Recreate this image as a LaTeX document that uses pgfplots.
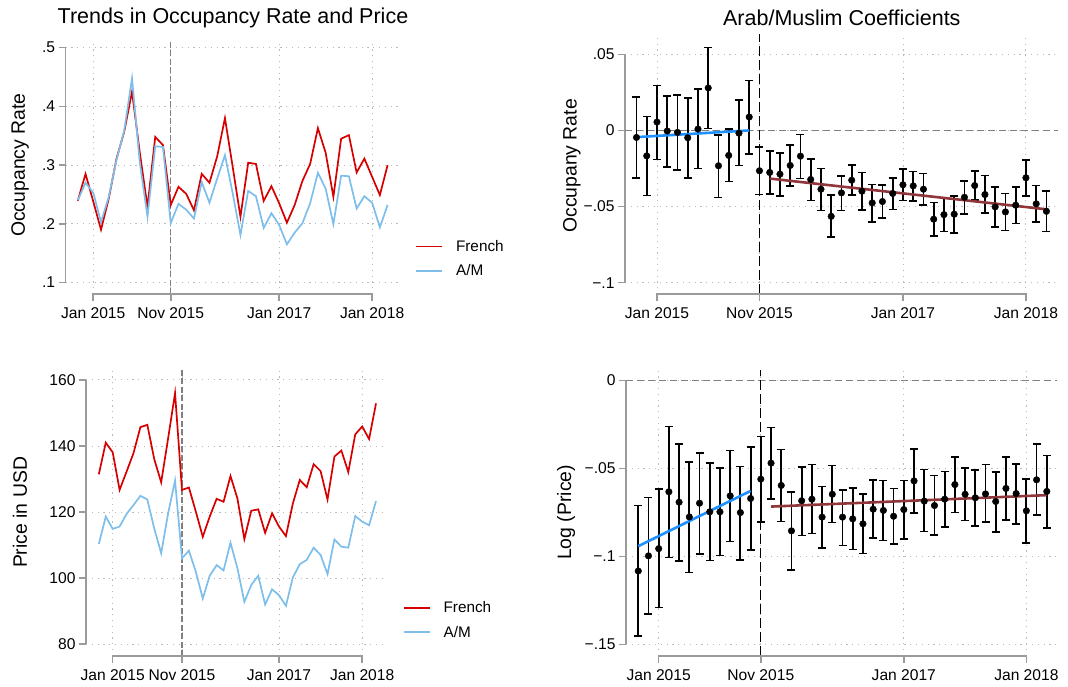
\documentclass[border=0pt]{standalone}
\usepackage{fontspec}
\setmainfont{Liberation Sans}
\usepackage{pgfplots}
\usepackage{pgfplotstable}
\pgfplotsset{compat=1.18}

\definecolor{frred}{RGB}{214,0,0}
\definecolor{amblue}{RGB}{125,190,235}
\definecolor{fitblue}{RGB}{30,144,255}
\definecolor{fitred}{RGB}{144,53,58}
\definecolor{axgray}{RGB}{155,155,155}
\definecolor{gridgray}{RGB}{185,185,185}

\tikzset{axln/.style={axgray, line width=1.5pt}}

\pgfplotstableread{
m fr am
-2 .239 .240
-1 .285 .270
0 .238 .253
1 .190 .203
2 .243 .246
3 .311 .309
4 .357 .359
5 .425 .448
6 .322 .305
7 .229 .212
8 .348 .332
9 .334 .331
10 .232 .201
11 .263 .234
12 .251 .224
13 .223 .209
14 .285 .271
15 .270 .236
16 .315 .277
17 .380 .317
18 .297 .252
19 .212 .181
20 .304 .256
21 .302 .247
22 .239 .193
23 .264 .218
24 .235 .198
25 .202 .165
26 .232 .185
27 .273 .201
28 .302 .235
29 .363 .287
30 .321 .260
31 .246 .1995
32 .345 .282
33 .351 .281
34 .2875 .226
35 .311 .247
36 .280 .236
37 .249 .194
38 .300 .232
}\occ

\pgfplotstableread{
m fr am
-2 131.4 110.3
-1 141.0 118.6
0 138.1 114.9
1 126.7 115.6
2 132.2 119.4
3 137.8 122.1
4 145.7 124.9
5 146.4 123.8
6 136.0 115.0
7 129.0 107.5
8 142.3 119.6
9 156.0 129.5
10 126.7 106.0
11 127.4 108.3
12 120.1 101.9
13 112.5 93.8
14 118.6 100.7
15 124.0 103.9
16 123.1 102.3
17 130.9 110.7
18 124.1 103.0
19 111.8 92.8
20 120.4 97.9
21 120.8 100.7
22 113.7 92.0
23 119.6 96.6
24 115.6 94.8
25 112.7 91.6
26 122.6 100.2
27 129.7 104.2
28 127.5 105.5
29 134.5 109.2
30 132.4 107.0
31 123.8 101.2
32 136.8 111.7
33 138.6 109.5
34 132.1 109.2
35 143.5 118.8
36 145.9 117.1
37 142.1 116.0
38 152.9 123.3
}\price

\pgfplotstableread{
m b lo hi
-2 -0.0046 -0.0311 0.0219
-1 -0.0167 -0.0428 0.0092
0 0.0055 -0.0191 0.0296
1 -0.0004 -0.0239 0.0228
2 -0.0013 -0.0261 0.0232
3 -0.0048 -0.0311 0.0211
4 0.0009 -0.0250 0.0270
5 0.0279 0.0013 0.0544
6 -0.0232 -0.0441 -0.0029
7 -0.0164 -0.0336 0.0009
8 -0.0018 -0.0230 0.0202
9 0.0088 -0.0154 0.0327
10 -0.0265 -0.0421 -0.0107
11 -0.0276 -0.0417 -0.0136
12 -0.0287 -0.0430 -0.0149
13 -0.0230 -0.0366 -0.0094
14 -0.0169 -0.0316 -0.0026
15 -0.0322 -0.0461 -0.0186
16 -0.0386 -0.0526 -0.0250
17 -0.0564 -0.0702 -0.0425
18 -0.0410 -0.0526 -0.0298
19 -0.0327 -0.0423 -0.0226
20 -0.0399 -0.0524 -0.0276
21 -0.0476 -0.0599 -0.0355
22 -0.0467 -0.0577 -0.0357
23 -0.0414 -0.0520 -0.0314
24 -0.0357 -0.0461 -0.0254
25 -0.0364 -0.0465 -0.0270
26 -0.0386 -0.0489 -0.0283
27 -0.0583 -0.0693 -0.0474
28 -0.0553 -0.0664 -0.0441
29 -0.0550 -0.0673 -0.0430
30 -0.0439 -0.0548 -0.0331
31 -0.0362 -0.0458 -0.0268
32 -0.0421 -0.0544 -0.0296
33 -0.0502 -0.0634 -0.0373
34 -0.0535 -0.0658 -0.0414
35 -0.0491 -0.0612 -0.0373
36 -0.0311 -0.0430 -0.0193
37 -0.0482 -0.0603 -0.0362
38 -0.0531 -0.0664 -0.0397
}\coefocc

\pgfplotstableread{
m b lo hi
-2 -0.1083 -0.1454 -0.0711
-1 -0.0997 -0.1327 -0.0666
0 -0.0956 -0.1291 -0.0618
1 -0.0633 -0.1007 -0.0262
2 -0.0692 -0.1026 -0.0360
3 -0.0776 -0.1092 -0.0463
4 -0.0698 -0.0988 -0.0411
5 -0.0747 -0.1024 -0.0468
6 -0.0747 -0.0995 -0.0499
7 -0.0656 -0.0916 -0.0398
8 -0.0751 -0.1020 -0.0489
9 -0.0671 -0.0965 -0.0379
10 -0.0561 -0.0806 -0.0319
11 -0.0470 -0.0673 -0.0267
12 -0.0597 -0.0802 -0.0392
13 -0.0855 -0.1077 -0.0635
14 -0.0684 -0.0882 -0.0493
15 -0.0675 -0.0870 -0.0478
16 -0.0777 -0.0954 -0.0603
17 -0.0647 -0.0808 -0.0484
18 -0.0777 -0.0939 -0.0622
19 -0.0787 -0.0961 -0.0612
20 -0.0815 -0.0984 -0.0647
21 -0.0732 -0.0897 -0.0565
22 -0.0739 -0.0910 -0.0569
23 -0.0772 -0.0931 -0.0614
24 -0.0734 -0.0901 -0.0569
25 -0.0571 -0.0753 -0.0389
26 -0.0686 -0.0859 -0.0506
27 -0.0711 -0.0880 -0.0540
28 -0.0675 -0.0834 -0.0518
29 -0.0592 -0.0751 -0.0434
30 -0.0647 -0.0796 -0.0499
31 -0.0667 -0.0827 -0.0510
32 -0.0645 -0.0806 -0.0478
33 -0.0688 -0.0861 -0.0520
34 -0.0614 -0.0793 -0.0434
35 -0.0643 -0.0815 -0.0474
36 -0.0741 -0.0922 -0.0561
37 -0.0565 -0.0766 -0.0362
38 -0.0631 -0.0838 -0.0427
}\coefprice

\pgfplotsset{
  statabase/.style={
    scale only axis, clip=false,
    axis x line*=bottom, axis y line*=left,
    x axis line style={draw=none}, y axis line style={draw=none},
    tick align=outside, major tick length=7pt,
    tick style={axgray, line width=1.4pt},
    grid=major,
    major grid style={gridgray, line width=0.9pt, dash pattern=on 1.2pt off 4.6pt},
    ticklabel style={font=\fontsize{15.6}{18}\selectfont, text=black},
    xticklabel style={yshift=-3pt},
    /pgf/number format/assume math mode=true,
    xtick={0,10,24,36},
    xticklabels={Jan 2015,Nov 2015,Jan 2017,Jan 2018},
  },
  ylab/.style 2 args={every axis y label/.style={at={(axis description cs:#1,#2)}, rotate=90, anchor=center, font=\fontsize{19.4}{22}\selectfont}},
  legstyle/.style 2 args={
    legend style={draw=none, fill=none, at={(#1,#2)}, anchor=west, inner sep=0pt,
      font=\fontsize{15.3}{18}\selectfont, row sep=8pt, cells={anchor=west},
      /tikz/every odd column/.append style={column sep=11pt}},
    legend image code/.code={\draw[##1, line width=1.8pt] (0pt,0pt) -- (26pt,0pt);},
  },
  coefplot/.style={only marks, mark=*, mark size=3.3pt, black,
    error bars/.cd, y dir=both, y explicit,
    error bar style={line width=1.8pt, black, solid},
    error mark options={rotate=90, line width=1.7pt, mark size=4pt, black, solid}},
}

\begin{document}
\begin{tikzpicture}
\useasboundingbox (0,0) rectangle (1068pt,686pt);

% ---------- top left ----------
\begin{axis}[statabase, at={(65.7pt,391.7pt)}, anchor=south west,
  width=334.3pt, height=254.3pt,
  xmin=-3.56, xmax=39.6, ymin=0.080, ymax=0.513,
  ytick={0.1,0.2,0.3,0.4,0.5}, yticklabels={.1,.2,.3,.4,.5},
  ylabel={Occupancy Rate}, ylab={-0.1367}{0.508},
  legstyle={1.045}{0.14}]
\draw[axln] (axis cs:-3.56,0.1) -- (axis cs:-3.56,0.5);
\pgfplotsinvokeforeach{0.1,0.2,0.3,0.4,0.5}{\draw[axln] (axis cs:-3.56,#1) -- ++(-7pt,0pt);}
\draw[gray, line width=1.2pt, dash pattern=on 6pt off 2.5pt] (axis cs:10,0.080) -- (axis cs:10,0.513);
\addplot[frred, line width=1.7pt, mark=none] table[x=m, y=fr] \occ;
\addlegendentry{French}
\addplot[amblue, line width=1.7pt, mark=none] table[x=m, y=am] \occ;
\addlegendentry{A/M}
\end{axis}

% ---------- top right ----------
\begin{axis}[statabase, at={(625pt,391.7pt)}, anchor=south west,
  width=432.7pt, height=256.3pt,
  xmin=-3.12, xmax=39.1, ymin=-0.1076, ymax=0.0607,
  ytick={-0.1,-0.05,0,0.05}, yticklabels={−.1,−.05,0,.05},
  ylabel={Occupany Rate}, ylab={-0.123}{0.501}]
\draw[axln] (axis cs:-3.12,-0.1) -- (axis cs:-3.12,0.05);
\pgfplotsinvokeforeach{-0.1,-0.05,0,0.05}{\draw[axln] (axis cs:-3.12,#1) -- ++(-7pt,0pt);}
\draw[gray, line width=1.1pt, dash pattern=on 7pt off 4pt] (axis cs:-3.12,0) -- (axis cs:39.1,0);
\draw[black, line width=1.3pt, dash pattern=on 10pt off 4pt] (axis cs:10,-0.1076) -- (axis cs:10,0.0635);
\addplot[coefplot] table[x=m, y=b, y error plus expr=\thisrow{hi}-\thisrow{b}, y error minus expr=\thisrow{b}-\thisrow{lo}] \coefocc;
\addplot[fitblue, line width=2.6pt, mark=none] coordinates {(-2,-0.0044) (9,0.0)};
\addplot[fitred, line width=2.6pt, mark=none] coordinates {(11,-0.0316) (38,-0.0518)};
\end{axis}

% ---------- bottom left ----------
\begin{axis}[statabase, at={(86pt,30pt)}, anchor=south west,
  width=297.3pt, height=286pt,
  xmin=-3.85, xmax=39.05, ymin=76.4, ymax=163.0,
  ytick={80,100,120,140,160},
  ylabel={Price in USD}, ylab={-0.222}{0.502},
  legstyle={1.065}{0.126}]
\draw[axln] (axis cs:-3.85,80) -- (axis cs:-3.85,160);
\pgfplotsinvokeforeach{80,100,120,140,160}{\draw[axln] (axis cs:-3.85,#1) -- ++(-7pt,0pt);}
\draw[gray, line width=1.2pt, dash pattern=on 6pt off 2.5pt] (axis cs:10,76.4) -- (axis cs:10,163.0);
\addplot[frred, line width=1.7pt, mark=none] table[x=m, y=fr] \price;
\addlegendentry{French}
\addplot[amblue, line width=1.7pt, mark=none] table[x=m, y=am] \price;
\addlegendentry{A/M}
\end{axis}

% ---------- bottom right ----------
\begin{axis}[statabase, at={(626pt,30pt)}, anchor=south west,
  width=431pt, height=286pt,
  xmin=-3.2, xmax=39.0, ymin=-0.1566, ymax=0.0059,
  ytick={-0.15,-0.1,-0.05,0}, yticklabels={−.15,−.1,−.05,0},
  ylabel={Log (Price)}, ylab={-0.139}{0.502}]
\draw[axln] (axis cs:-3.2,-0.15) -- (axis cs:-3.2,0);
\pgfplotsinvokeforeach{-0.15,-0.1,-0.05,0}{\draw[axln] (axis cs:-3.2,#1) -- ++(-7pt,0pt);}
\draw[gray, line width=1.1pt, dash pattern=on 7pt off 4pt] (axis cs:-3.2,0) -- (axis cs:39.0,0);
\draw[black, line width=1.3pt, dash pattern=on 10pt off 4pt] (axis cs:10,-0.1566) -- (axis cs:10,0.0059);
\addplot[coefplot] table[x=m, y=b, y error plus expr=\thisrow{hi}-\thisrow{b}, y error minus expr=\thisrow{b}-\thisrow{lo}] \coefprice;
\addplot[fitblue, line width=2.6pt, mark=none] coordinates {(-2,-0.0942) (9,-0.0628)};
\addplot[fitred, line width=2.6pt, mark=none] coordinates {(11,-0.0717) (38,-0.0652)};
\end{axis}

% x axis lines and ticks as filled bars (axis decoration)
\fill[axgray] (93.27pt,390.9pt) rectangle (372.11pt,392.5pt);
\foreach \x in {93.27,170.73,279.16,372.11}{\fill[axgray] (\x pt-0.8pt,392.5pt) rectangle (\x pt+0.8pt,384.7pt);}
\fill[axgray] (656.98pt,390.9pt) rectangle (1025.94pt,392.5pt);
\foreach \x in {656.98,759.47,902.95,1025.94}{\fill[axgray] (\x pt-0.8pt,392.5pt) rectangle (\x pt+0.8pt,384.7pt);}
\fill[axgray] (112.68pt,29.2pt) rectangle (361.84pt,30.8pt);
\foreach \x in {112.68,181.98,278.99,361.84}{\fill[axgray] (\x pt-0.8pt,30.8pt) rectangle (\x pt+0.8pt,23pt);}
\fill[axgray] (658.68pt,29.2pt) rectangle (1026.36pt,30.8pt);
\foreach \x in {658.68,760.82,903.80,1026.36}{\fill[axgray] (\x pt-0.8pt,30.8pt) rectangle (\x pt+0.8pt,23pt);}

\node[font=\fontsize{21.5}{24}\selectfont] at (233pt,668pt) {Trends in Occupancy Rate and Price};
\node[font=\fontsize{21.5}{24}\selectfont] at (841.8pt,668.5pt) {Arab/Muslim Coefficients};
\end{tikzpicture}
\end{document}
